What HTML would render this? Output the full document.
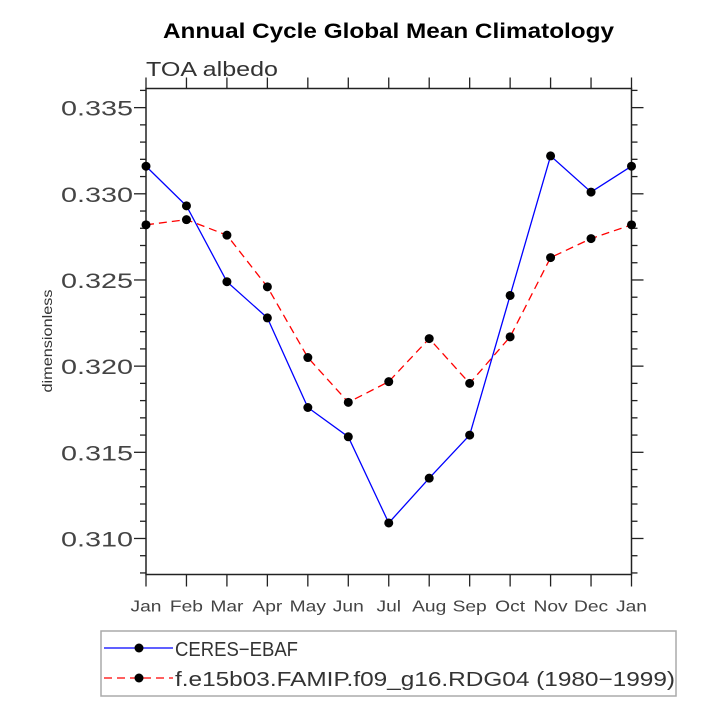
<!DOCTYPE html>
<html><head><meta charset="utf-8"><style>
body{margin:0;background:#fff;}
svg text{font-family:"Liberation Sans",sans-serif;}
</style></head><body>
<svg id="c" width="715" height="715" xmlns="http://www.w3.org/2000/svg">
<text x="163" y="38" font-size="21" font-weight="bold" textLength="451" lengthAdjust="spacingAndGlyphs">Annual Cycle Global Mean Climatology</text>
<text x="146" y="76" font-size="20" fill="#333" textLength="132" lengthAdjust="spacingAndGlyphs">TOA albedo</text>
<text transform="translate(52,341) rotate(-90)" text-anchor="middle" font-size="14" fill="#333" textLength="103" lengthAdjust="spacingAndGlyphs">dimensionless</text>
<g id="ax"></g>
<g id="ser"></g>
<rect x="101" y="631" width="575" height="65" fill="none" stroke="#aaa" stroke-width="1.5"/>
<g>
<line x1="104" y1="648" x2="173" y2="648" stroke="#00f" stroke-width="1.3"/>
<circle cx="139" cy="648" r="4.5"/>
<text x="175" y="656" font-size="20" fill="#333" textLength="123" lengthAdjust="spacingAndGlyphs">CERES−EBAF</text></g>
<g>
<line x1="104" y1="678" x2="173" y2="678" stroke="#f00" stroke-width="1.3" stroke-dasharray="8,5"/>
<circle cx="139" cy="678" r="4.5"/>
<text x="175" y="686" font-size="20" fill="#333" textLength="500" lengthAdjust="spacingAndGlyphs">f.e15b03.FAMIP.f09_g16.RDG04 (1980−1999)</text></g>
</svg>
<script>
const months=["Jan","Feb","Mar","Apr","May","Jun","Jul","Aug","Sep","Oct","Nov","Dec","Jan"];
const ceres=[0.3316,0.3293,0.3249,0.3228,0.3176,0.3159,0.3109,0.3135,0.3160,0.3241,0.3322,0.3301,0.3316];
const model=[0.3282,0.3285,0.3276,0.3246,0.3205,0.3179,0.3191,0.3216,0.3190,0.3217,0.3263,0.3274,0.3282];
const yTicks=["0.310","0.315","0.320","0.325","0.330","0.335"];
const L=146,R=631.5,T=88.5,B=574.5,ymin=0.30791,ymax=0.33611;
const NS="http://www.w3.org/2000/svg";
function X(i){return L+(R-L)*i/12;}
function Y(v){return B-(v-ymin)/(ymax-ymin)*(B-T);}
function mk(t,a,p){const e=document.createElementNS(NS,t);for(const k in a)e.setAttribute(k,a[k]);p.appendChild(e);return e;}
const ax=document.getElementById('ax');
const box=mk('rect',{x:L,y:T,width:R-L,height:B-T,fill:'none',stroke:'#222','stroke-width':1.5},ax);


for(let i=0;i<13;i++){
  const x=X(i);
  mk('line',{x1:x,y1:B,x2:x,y2:B+12,stroke:'#222','stroke-width':1.3},ax);
  mk('line',{x1:x,y1:T,x2:x,y2:T-11,stroke:'#222','stroke-width':1.3},ax);
  const t=mk('text',{x:x,y:B+37,'text-anchor':'middle','font-size':16,fill:'#444'},ax);
  t.textContent=months[i];
  
  
  const w=t.getComputedTextLength();
  t.setAttribute('textLength',w*1.2);
  t.setAttribute('lengthAdjust','spacingAndGlyphs');
}
for(let k=308;k<=336;k++){
  const v=k/1000;const y=Y(v);const maj=k%5==0;const len=maj?12:6;
  mk('line',{x1:L,y1:y,x2:L-len,y2:y,stroke:'#222','stroke-width':1.3},ax);
  mk('line',{x1:R,y1:y,x2:R+len,y2:y,stroke:'#222','stroke-width':1.3},ax);
}
yTicks.forEach(s=>{
  const t=mk('text',{x:L-13,y:Y(parseFloat(s))+8,'text-anchor':'end','font-size':21,fill:'#444',textLength:72,lengthAdjust:'spacingAndGlyphs'},ax);
  t.textContent=s;
  
  
});
const ser=document.getElementById('ser');
function draw(d,col,dash,name){
  const g=mk('g',{},ser);
  
  
  const a={points:d.map((v,i)=>X(i)+','+Y(v)).join(' '),fill:'none',stroke:col,'stroke-width':1.3};
  if(dash)a['stroke-dasharray']=dash;
  mk('polyline',a,g);
  d.forEach((v,i)=>{const c=mk('circle',{cx:X(i),cy:Y(v),r:4.5},g);
    
    });
}
draw(model,'#f00','8,5','series-model');
draw(ceres,'#00f',null,'series-ceres');
</script>
</body></html>
